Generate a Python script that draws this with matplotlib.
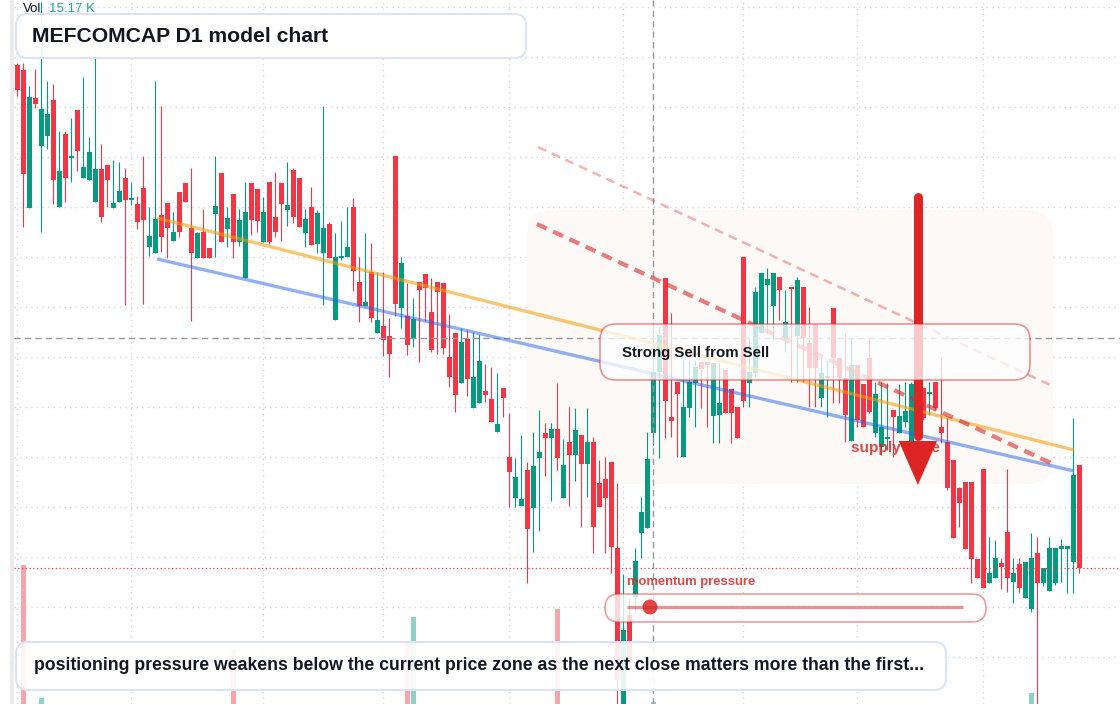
import matplotlib
matplotlib.use("Agg")
import matplotlib.pyplot as plt
from matplotlib.patches import FancyBboxPatch, Polygon, Rectangle, Circle
from matplotlib.transforms import IdentityTransform
from matplotlib.colors import to_rgba

W, H = 1120, 704
plt.rcParams['font.family'] = ['Liberation Sans', 'DejaVu Sans']

# daily OHLC, oldest first
opens = [69.2, 68.7, 54.9, 65.9, 61.1, 62.1, 65.7, 55.0, 62.3, 59.9,
         64.7, 57.9, 57.7, 55.5, 58.8, 59.2, 54.9, 55.5, 57.9, 55.7,
         55.3, 56.9, 51.0, 50.4, 54.2, 55.4, 51.6, 56.5, 57.4, 52.9,
         49.9, 52.5, 50.9, 54.3, 58.4, 52.8, 56.3, 51.5, 47.9, 57.4,
         56.8, 51.5, 57.5, 54.0, 57.4, 54.7, 58.7, 57.9, 52.4, 55.0,
         51.3, 50.4, 53.3, 43.7, 49.9, 50.0, 55.0, 47.5, 45.1, 48.5,
         42.4, 43.1, 42.1, 60.1, 44.9, 44.1, 41.9, 47.5, 48.3, 44.5,
         47.5, 47.4, 40.0, 42.4, 37.4, 41.8, 34.9, 35.4, 36.6, 35.8,
         32.5, 36.9, 30.0, 25.9, 25.1, 28.7, 24.9, 29.9, 32.4, 31.9,
         32.8, 25.9, 31.5, 30.2, 32.2, 29.3, 31.5, 27.4, 27.8, 29.5,
         20.9, 4.2, 14.2, 16.0, 22.4, 22.9, 32.4, 38.5, 47.9, 34.0,
         37.5, 30.0, 34.9, 37.4, 39.5, 39.5, 34.1, 34.2, 38.7, 36.8,
         35.0, 50.0, 37.4, 38.4, 42.4, 47.2, 45.1, 48.0, 41.9, 46.9,
         42.1, 47.0, 41.4, 43.3, 35.9, 37.9, 44.9, 39.9, 37.9, 31.6,
         39.2, 37.3, 39.9, 32.4, 31.0, 31.8, 34.7, 32.4, 33.5, 31.0,
         36.2, 36.9, 36.3, 37.5, 33.0, 31.5, 29.7, 26.9, 27.5, 27.5,
         19.8, 28.8, 17.4, 17.9, 19.4, 22.5, 17.5, 19.3, 15.9, 14.8,
         20.4, 17.4, 16.6, 17.4, 20.8, 20.8, 19.5, 29.2]
highs = [69.4, 69.4, 67.1, 68.8, 75.5, 67.6, 67.3, 62.6, 62.6, 63.9,
         64.7, 68.0, 62.0, 69.9, 61.3, 59.2, 59.7, 59.5, 58.9, 57.5,
         56.1, 60.1, 55.0, 67.6, 65.1, 55.4, 54.5, 56.5, 57.4, 58.9,
         52.5, 54.8, 50.9, 60.1, 58.4, 55.0, 56.3, 54.8, 57.5, 57.4,
         56.8, 56.0, 57.5, 58.5, 57.4, 59.5, 58.9, 57.9, 54.8, 57.0,
         54.7, 65.1, 53.5, 52.4, 53.6, 55.0, 55.9, 50.0, 52.4, 51.4,
         48.5, 48.5, 43.9, 60.1, 50.0, 47.4, 45.9, 47.5, 48.3, 47.9,
         47.5, 47.4, 44.3, 42.4, 42.9, 42.7, 42.5, 42.3, 39.3, 39.0,
         38.4, 36.9, 34.4, 29.9, 32.2, 29.5, 32.5, 34.7, 33.4, 33.4,
         37.4, 31.8, 35.0, 34.9, 32.2, 34.9, 32.0, 29.7, 30.0, 29.5,
         27.4, 18.3, 15.9, 20.9, 26.0, 32.5, 43.0, 43.0, 47.9, 44.4,
         37.5, 39.7, 39.7, 39.7, 39.5, 39.5, 39.4, 39.4, 38.7, 36.8,
         35.0, 50.0, 42.0, 47.0, 48.4, 48.9, 48.4, 48.0, 46.7, 46.9,
         48.0, 47.0, 45.0, 43.3, 40.0, 39.7, 44.9, 39.9, 42.4, 41.9,
         39.2, 37.3, 41.9, 37.5, 37.5, 37.4, 34.7, 37.3, 37.5, 37.5,
         36.7, 36.9, 37.5, 37.5, 39.9, 34.0, 29.7, 27.0, 27.5, 27.5,
         19.8, 28.8, 22.0, 21.7, 19.9, 28.8, 19.9, 19.9, 19.5, 22.4,
         22.0, 18.9, 22.0, 20.9, 21.8, 21.1, 33.9, 29.2]
lows = [66.1, 53.0, 54.9, 64.9, 52.5, 60.8, 55.3, 55.0, 55.5, 57.5,
        58.6, 57.9, 57.7, 55.5, 53.5, 55.0, 54.9, 55.5, 45.2, 55.2,
        52.8, 45.3, 50.1, 50.4, 50.5, 49.9, 51.6, 52.0, 55.5, 43.6,
        49.9, 49.9, 49.9, 50.0, 51.5, 51.0, 49.9, 51.1, 47.9, 52.2,
        52.5, 51.5, 51.3, 52.0, 51.6, 53.1, 53.4, 53.0, 51.0, 51.2,
        50.4, 45.2, 49.9, 43.7, 49.7, 50.0, 46.6, 43.5, 45.1, 43.5,
        42.4, 40.1, 38.0, 44.1, 42.9, 40.2, 41.0, 39.5, 43.6, 40.5,
        40.3, 40.3, 37.0, 34.5, 37.4, 36.1, 34.9, 35.4, 35.5, 33.5,
        32.5, 34.0, 25.0, 25.0, 25.1, 17.4, 20.5, 22.6, 28.1, 25.6,
        28.7, 25.9, 25.1, 27.6, 23.0, 26.0, 20.4, 25.0, 20.4, 18.4,
        4.0, 3.7, 9.2, 14.7, 19.9, 22.9, 31.2, 29.9, 31.9, 32.0,
        30.0, 30.0, 34.0, 33.0, 34.9, 33.0, 31.4, 31.4, 34.4, 31.4,
        31.9, 35.0, 35.0, 38.0, 42.4, 42.4, 41.7, 43.7, 40.5, 37.5,
        37.5, 37.5, 35.0, 35.0, 35.0, 34.0, 35.4, 35.4, 31.5, 31.6,
        33.0, 33.0, 34.4, 32.0, 30.2, 30.7, 30.0, 32.4, 33.0, 31.0,
        31.7, 33.7, 34.2, 34.7, 31.4, 26.7, 21.9, 23.0, 20.8, 17.4,
        17.9, 16.9, 17.4, 17.9, 16.8, 16.5, 15.4, 16.4, 15.9, 14.5,
        5.0, 17.1, 16.6, 17.2, 17.5, 16.4, 16.4, 18.4]
closes = [66.7, 58.3, 66.0, 65.3, 64.8, 64.3, 57.7, 58.6, 57.9, 60.1,
          60.6, 59.0, 60.5, 58.8, 54.0, 57.7, 55.4, 56.6, 55.7, 55.9,
          53.5, 53.7, 52.1, 53.8, 52.0, 52.9, 52.5, 52.5, 55.5, 50.4,
          52.4, 49.9, 49.9, 55.1, 51.5, 53.9, 51.5, 53.7, 54.5, 53.7,
          53.6, 54.5, 51.5, 52.5, 55.3, 55.2, 54.0, 53.0, 53.8, 51.2,
          54.4, 52.9, 49.9, 50.0, 50.1, 51.0, 48.6, 45.1, 45.5, 43.9,
          43.7, 41.7, 40.3, 45.3, 49.4, 41.2, 43.8, 46.7, 46.9, 40.7,
          46.5, 40.9, 38.0, 36.2, 41.5, 37.8, 38.0, 39.6, 36.2, 33.5,
          33.3, 35.9, 28.5, 28.0, 25.8, 22.8, 29.1, 30.5, 31.9, 32.8,
          29.9, 29.2, 30.2, 32.7, 29.3, 31.5, 23.0, 25.0, 25.9, 21.0,
          7.7, 12.7, 9.7, 19.6, 24.5, 29.8, 38.5, 42.2, 35.6, 33.6,
          36.3, 35.0, 37.5, 39.0, 38.8, 39.2, 39.4, 35.4, 34.4, 34.4,
          31.9, 35.6, 38.5, 46.5, 48.4, 47.8, 48.4, 46.7, 43.5, 46.8,
          47.7, 41.9, 38.9, 38.9, 38.4, 38.0, 39.9, 37.9, 34.2, 39.2,
          33.7, 33.0, 34.5, 36.3, 33.0, 32.0, 34.0, 34.1, 34.6, 37.3,
          32.2, 33.9, 36.4, 34.9, 32.4, 26.9, 21.9, 25.4, 20.8, 19.8,
          17.9, 16.9, 18.4, 19.9, 19.0, 17.9, 18.4, 16.9, 19.5, 19.9,
          17.4, 18.9, 20.9, 20.9, 21.1, 21.1, 28.2, 18.9]
# volume in thousands
volumes = [1.2, 1390, 0.8, 1.5, 60, 1.1, 0.9, 1.2, 1.4, 0.7,
           1.3, 1.6, 0.6, 1.9, 1.1, 0.8, 0.5, 1.0, 2.1, 0.6,
           0.9, 1.8, 0.7, 1.3, 1.4, 0.9, 0.5, 1.0, 0.6, 2.0,
           0.8, 1.1, 0.5, 1.2, 0.9, 0.7, 540, 1.1, 1.7, 0.8,
           0.7, 1.2, 1.3, 0.9, 0.6, 1.0, 1.4, 0.6, 0.9, 1.2,
           0.8, 2.2, 1.0, 1.5, 0.6, 0.9, 1.4, 1.1, 0.7, 1.3,
           0.8, 1.1, 1.4, 2.3, 1.6, 610, 870, 1.0, 0.7, 1.3,
           0.9, 1.2, 1.4, 1.9, 1.1, 0.8, 1.2, 1.0, 0.6, 1.3,
           0.9, 0.7, 2.0, 1.1, 0.8, 2.4, 1.8, 1.3, 0.6, 1.0,
           950, 1.2, 1.4, 0.9, 1.1, 0.9, 2.2, 0.7, 1.2, 1.6,
           2.5, 2.1, 1.4, 1.5, 1.1, 1.9, 15.17, 1.3, 2.0, 0.9,
           1.0, 1.4, 0.9, 0.7, 0.6, 0.5, 1.3, 0.9, 0.8, 1.1,
           1.0, 1.9, 0.7, 1.4, 1.2, 0.6, 1.0, 0.8, 0.9, 0.6,
           1.2, 1.1, 0.8, 1.0, 0.7, 0.5, 1.3, 0.7, 1.1, 1.6,
           1.1, 0.9, 1.2, 1.0, 0.8, 0.7, 0.7, 0.9, 0.7, 1.4,
           1.1, 0.8, 0.6, 0.9, 1.2, 1.7, 1.9, 0.8, 1.4, 1.6,
           0.9, 2.0, 0.7, 0.8, 0.5, 1.4, 0.7, 1.0, 1.1, 110,
           2.2, 0.7, 1.2, 0.8, 0.6, 0.6, 2.0, 1.3]

grid_idx = [0, 19, 41, 61, 82, 101, 121, 140, 161]
grid_prices = [10, 15, 20, 25, 30, 35, 40, 45, 50, 55, 60, 65, 70, 75]
cross_idx, cross_price = 106, 41.9

# drawn studies (bar index, price)
orange_trend = ([23.3, 176.1], [53.9, 30.7])
blue_trend = ([23.3, 176.1], [49.8, 28.6])
sell_line = ([86.6, 172.6], [53.3, 29.3])
upper_line = ([86.8, 172.5], [61.0, 37.1])
zone = (84.9, 27.3, 172.6, 54.7)
arrow_x, arrow_top, arrow_neck, arrow_tip, arrow_half = 150.1, 56.0, 31.6, 27.2, 3.2

RED, GREEN = '#f23645', '#089981'
ARROW_RED = '#dc2626'
INK = '#131722'

fig = plt.figure(figsize=(W / 100, H / 100), dpi=100)
fig.add_artist(Rectangle((10 / W, 0), 4 / W, 1, transform=fig.transFigure,
                         color='#ececec', lw=0))
rect = [14 / W, 0, (W - 14) / W, 1]
ax_v = fig.add_axes(rect)
ax = fig.add_axes(rect)
ax.patch.set_visible(False)
for a in (ax, ax_v):
    a.set_xlim(-0.55, 183.78)
    for s in a.spines.values():
        s.set_visible(False)
    a.tick_params(length=0, labelbottom=False, labelleft=False)
ax_v.set_xticks([])
ax_v.set_yticks([])
ax.set_ylim(5.3, 75.7)
ax_v.set_ylim(0, 7040)

ax.set_xticks(grid_idx)
ax.set_yticks(grid_prices)
ax.set_axisbelow(True)
ax.grid(True, color='#d3d6de', lw=1, linestyle=(0, (1, 3)))

idx = list(range(len(opens)))
cols = [GREEN if c >= o else RED for o, c in zip(opens, closes)]

# volume
ax_v.bar(idx, volumes, width=0.8, color=[to_rgba(c, 0.45) for c in cols], lw=0)

# candles
ax.vlines(idx, lows, highs, colors=cols, lw=0.8, zorder=2)
bottoms = [min(o, c) for o, c in zip(opens, closes)]
heights = [max(abs(c - o), 0.15) for o, c in zip(opens, closes)]
ax.bar(idx, heights, bottom=bottoms, width=0.78, color=cols, lw=0, zorder=3)

# price line and crosshair
ax.axhline(closes[-1], color=RED, lw=0.9, linestyle=(0, (1, 2)), zorder=3.5)
ax.axvline(cross_idx, color='#9598a1', lw=1, linestyle=(0, (4.5, 3)), zorder=3.6)
ax.axhline(cross_price, color='#9598a1', lw=1, linestyle=(0, (4.5, 3)), zorder=3.6)

# zone background
(zx0, zy0), (zx1, zy1) = ax.transData.transform([(zone[0], zone[1]), (zone[2], zone[3])])
ax.add_patch(FancyBboxPatch((zx0, zy0), zx1 - zx0, zy1 - zy0,
                            boxstyle='round,pad=0,rounding_size=26',
                            transform=IdentityTransform(), fc='#fdf9f7',
                            ec='none', zorder=1, clip_on=False))

# trend lines
ax.plot(*orange_trend, color='#f59e0b', alpha=0.58, lw=2.4, zorder=4, solid_capstyle='butt')
ax.plot(*blue_trend, color='#2563eb', alpha=0.5, lw=2.4, zorder=4, solid_capstyle='butt')
ax.plot(*sell_line, color=ARROW_RED, alpha=0.6, lw=3, linestyle=(0, (2.6, 1.7)), zorder=4.5)
ax.plot(*upper_line, color=ARROW_RED, alpha=0.35, lw=1.8, linestyle=(0, (3.6, 2.4)), zorder=4.5)

def text_px(x, y, s, **kw):
    ax.text(x, H - y, s, transform=IdentityTransform(), va='center', ha='left', **kw)

def box_px(x0, y0, x1, y1, r, fc, ec, lw, z):
    ax.add_patch(FancyBboxPatch((x0, H - y1), x1 - x0, y1 - y0,
                                boxstyle=f'round,pad=0,rounding_size={r}',
                                transform=IdentityTransform(), fc=fc, ec=ec, lw=lw,
                                zorder=z, clip_on=False))

text_px(851, 448, 'supply zone', fontsize=11, fontweight='bold',
        color=to_rgba(ARROW_RED, 0.85), zorder=5)

# arrow
ax.plot([arrow_x, arrow_x], [arrow_top, arrow_neck + 0.5], color=ARROW_RED, lw=6.5,
        solid_capstyle='round', zorder=6)
ax.add_patch(Polygon([(arrow_x - arrow_half, arrow_neck), (arrow_x + arrow_half, arrow_neck),
                      (arrow_x, arrow_tip)], closed=True, color=ARROW_RED, lw=0, zorder=6))

# callout
box_px(600, 324, 1030, 380, 16, to_rgba('white', 0.76), to_rgba(ARROW_RED, 0.5), 1.2, 7)
text_px(622, 353, 'Strong Sell from Sell', fontsize=10.8, fontweight='bold', color=INK, zorder=8)

# momentum widget
text_px(627, 582, 'momentum pressure', fontsize=9.4, fontweight='bold',
        color=to_rgba(ARROW_RED, 0.85), zorder=8)
box_px(605, 594, 986, 622, 14, to_rgba('white', 0.8), to_rgba(ARROW_RED, 0.45), 1.2, 7)
ax.plot([627, 963], [H - 607, H - 607], transform=IdentityTransform(),
        color=ARROW_RED, alpha=0.5, lw=2.3, zorder=7.5, clip_on=False, solid_capstyle='butt')
ax.add_patch(Circle((650, H - 607), 7.5, transform=IdentityTransform(),
                    color=to_rgba(ARROW_RED, 0.85), lw=0, zorder=8, clip_on=False))

# title and footer
box_px(16, 14, 526, 58, 11, to_rgba('white', 0.92), '#dbe4f5', 1.4, 9)
text_px(32, 36, 'MEFCOMCAP D1 model chart', fontsize=15.2, fontweight='bold', color=INK, zorder=10)
box_px(16, 642, 946, 690, 12, to_rgba('white', 0.9), '#dbe4f5', 1.4, 9)
text_px(34, 666, 'positioning pressure weakens below the current price zone as the next close matters more than the first...',
        fontsize=12.7, fontweight='bold', color=INK, zorder=10)

text_px(23, 9, 'Vol', fontsize=9.5, color=INK, zorder=10)
text_px(49, 9, '15.17 K', fontsize=9.5, color='#22ab94', zorder=10)

fig.savefig('out.png', dpi=100)
